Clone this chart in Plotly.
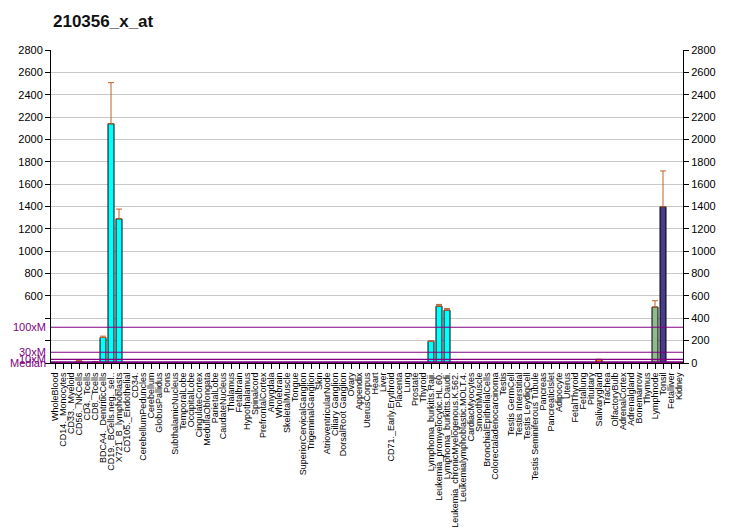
import plotly.graph_objects as go

categories = [
    "WholeBlood", "CD14._Monocytes", "CD33._Myeloid", "CD56._NKCells", "CD4._Tcells",
    "CD8._Tcells", "BDCA4._DentriticCells", "CD19._BCells.neg._sel..", "X721_B_lymphoblasts",
    "CD105._Endothelial", "CD34.", "CerebellumPeduncles", "Cerebellum", "GlobusPallidus",
    "Pons", "SubthalamicNucleus", "TemporalLobe", "OccipitalLobe", "CingulateCortex",
    "MedullaOblongata", "ParietalLobe", "CaudateNucleus", "Thalamus", "Fetalbrain",
    "Hypothalamus", "Spinalcord", "PrefrontalCortex", "Amygdala", "Wholebrain",
    "SkeletalMuscle", "Tongue", "SuperiorCervicalGanglion", "TrigeminalGanglion", "Skin",
    "AtrioventricularNode", "Ciliary Ganglion", "DorsalRoot Ganglion", "Ovary", "Appendix",
    "UterusCorpus", "Heart", "Liver", "CD71._Early.Erythroid", "Placenta", "Lung",
    "Prostate", "Thyroid", "Lymphoma_burkitts.Raji.", "Leukemia_promyelocytic.HL.60.",
    "Lymphoma_burkitts.Daudi.", "Leukemia_chronicMyelogenous.K.562.",
    "Leukemialymphoblastic.MOLT.4.", "CardiacMyocytes", "SmoothMuscle",
    "BronchialEpithelialCells", "Colorectaladenocarcinoma", "Testis", "Testis GermCell",
    "Testis Interstitial", "Testis LeydigCell", "Testis Seminiferous Tubule", "Pancreas",
    "PancreaticIslet", "Adipocyte", "Uterus", "FetalThyroid", "Fetallung", "Pituitary",
    "Salivarygland", "Trachea", "OlfactoryBulb", "AdrenalCortex", "Adrenalgland",
    "Bonemarrow", "Thymus", "Lymphnode", "Tonsil", "Fetalliver", "Kidney",
]

values = [
    3, 4, 3, 15, 3, 10, 228, 2140, 1290, 3,
    3, 2, 3, 3, 2, 3, 2, 3, 3, 2,
    3, 3, 2, 3, 3, 2, 3, 3, 2, 3,
    3, 2, 3, 3, 2, 3, 3, 2, 3, 3,
    2, 3, 4, 3, 3, 2, 3, 195, 509, 473,
    4, 4, 3, 3, 2, 3, 3, 2, 3, 3,
    2, 3, 3, 2, 3, 3, 2, 3, 31, 3,
    3, 2, 3, 3, 4, 500, 1398, 3, 3,
]

errors = [
    0, 0, 0, 9, 0, 2, 12, 368, 87, 0,
    0, 0, 0, 0, 0, 0, 0, 0, 0, 0,
    0, 0, 0, 0, 0, 0, 0, 0, 0, 0,
    0, 0, 0, 0, 0, 0, 0, 0, 0, 0,
    0, 0, 0, 0, 0, 0, 0, 0, 15, 15,
    0, 0, 0, 0, 0, 0, 0, 0, 0, 0,
    0, 0, 0, 0, 0, 0, 0, 0, 3, 0,
    0, 0, 0, 0, 0, 57, 320, 0, 0,
]

special_colors = {
    "Salivarygland": "#FF8C00",
    "Lymphnode": "#8FBC8F",
    "Tonsil": "#483D8B",
}
default_color = "#00FFFF"

left_ticks = [0, 200, 400, 600, 800, 1000, 1200, 1400, 1600, 1800, 2000, 2200, 2400, 2600, 2800]
left_ticktext = ["", "", "", "600", "800", "1000", "1200", "1400", "1600", "1800",
                 "2000", "2200", "2400", "2600", "2800"]
right_ticks = left_ticks
right_ticktext = [str(v) for v in right_ticks]

median_value = 3.2
ref_lines = [("100xM", 320), ("30xM", 96), ("10xM", 32), ("Median", median_value)]

title_text = "210356_x_at"

FONT = "Liberation Sans, Arial, sans-serif"
PURPLE = "#800080"

colors = [special_colors.get(c, default_color) for c in categories]
xs = list(range(len(categories)))

fig = go.Figure()
fig.add_trace(go.Bar(
    x=xs, y=values,
    marker=dict(color=colors, line=dict(color="black", width=1)),
    width=0.75,
    error_y=dict(type="data", array=errors, arrayminus=[0] * len(errors),
                 symmetric=False, color="#C0602A", thickness=1, width=3),
    showlegend=False, hoverinfo="x+y",
))
# invisible trace for right axis
fig.add_trace(go.Scatter(x=[xs[0]], y=[0], yaxis="y2", mode="markers",
                         marker=dict(opacity=0), showlegend=False, hoverinfo="skip"))

shapes = []
for name, v in ref_lines:
    shapes.append(dict(type="line", xref="paper", x0=0, x1=1, yref="y", y0=v, y1=v,
                       line=dict(color=PURPLE, width=3 if name == "Median" else 1.2),
                       layer="above"))

annotations = []
for name, v in ref_lines:
    annotations.append(dict(x=0, xref="paper", xanchor="right", xshift=-3,
                            y=v, yref="y", yanchor="middle", text=name, showarrow=False,
                            font=dict(family=FONT, size=11, color=PURPLE)))

fig.update_layout(
    width=732, height=530,
    margin=dict(l=51, r=49, t=50, b=167, pad=0, autoexpand=False),
    paper_bgcolor="white", plot_bgcolor="white",
    title=dict(text="<b>" + title_text + "</b>", xref="container", x=53 / 732, xanchor="left",
               yref="container", y=1 - 21.5 / 530, yanchor="middle",
               font=dict(family=FONT, size=17, color="#111111")),
    font=dict(family=FONT, size=11, color="black"),
    bargap=0.25,
    xaxis=dict(range=[-0.5, len(categories) - 0.5], tickmode="array", tickvals=xs,
               ticktext=categories, tickangle=-90, ticks="outside", ticklen=5,
               tickcolor="black", tickwidth=1, showgrid=False, zeroline=False,
               showline=True, linecolor="black", linewidth=1, automargin=False,
               tickfont=dict(family=FONT, size=9, color="black")),
    yaxis=dict(range=[0, 2800], tickmode="array", tickvals=left_ticks, ticktext=left_ticktext,
               ticks="outside", ticklen=5, tickcolor="black", showgrid=True,
               gridcolor="#C8C8C8", gridwidth=1, zeroline=False, showline=True, automargin=False,
               linecolor="black", linewidth=1, tickfont=dict(family=FONT, size=11, color="black")),
    yaxis2=dict(range=[0, 2800], overlaying="y", side="right", tickmode="array",
                tickvals=right_ticks, ticktext=right_ticktext, ticks="outside", ticklen=5,
                tickcolor="black", showgrid=False, zeroline=False, showline=True, automargin=False,
                linecolor="black", linewidth=1, tickfont=dict(family=FONT, size=11, color="black")),
    shapes=shapes,
    annotations=annotations,
)

fig.write_html("out.html")
